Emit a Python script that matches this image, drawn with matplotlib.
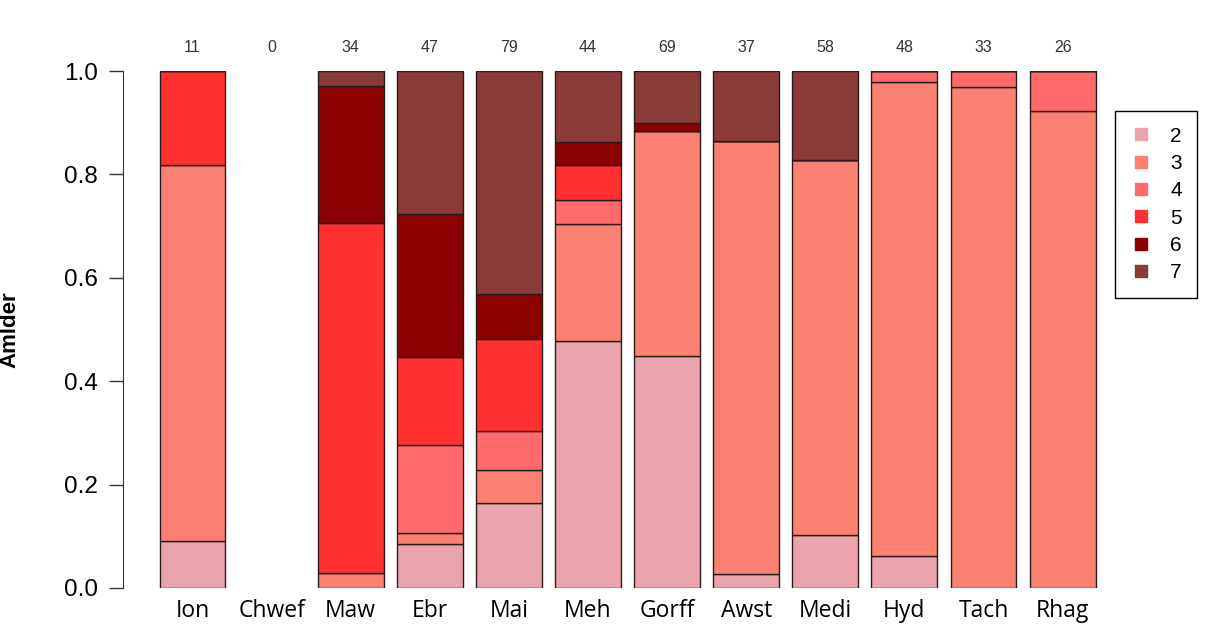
import numpy as np
import matplotlib
matplotlib.use('Agg')
import matplotlib.pyplot as plt
from matplotlib.lines import Line2D

# months (Welsh) and counts of each class per month
months = ['Ion', 'Chwef', 'Maw', 'Ebr', 'Mai', 'Meh', 'Gorff', 'Awst', 'Medi', 'Hyd', 'Tach', 'Rhag']
classes = ['2', '3', '4', '5', '6', '7']
n2 = [1, 0, 0, 4, 13, 21, 31, 1, 6, 3, 0, 0]
n3 = [8, 0, 1, 1, 5, 10, 30, 31, 42, 44, 32, 24]
n4 = [0, 0, 0, 8, 6, 2, 0, 0, 0, 1, 1, 2]
n5 = [2, 0, 23, 8, 14, 3, 0, 0, 0, 0, 0, 0]
n6 = [0, 0, 9, 13, 7, 2, 1, 0, 0, 0, 0, 0]
n7 = [0, 0, 1, 13, 34, 6, 7, 5, 10, 0, 0, 0]
colours = ['#EBA3AD', '#FA8072', '#FF6A6A', '#FF3030', '#8B0000', '#8B3A3A']

counts = np.array([n2, n3, n4, n5, n6, n7], dtype=float)
totals = counts.sum(axis=0)
props = np.divide(counts, totals, out=np.full_like(counts, np.nan), where=totals > 0)

x = np.arange(len(months)) * 1.2

fig = plt.figure(figsize=(12.08, 6.41), dpi=100)
# axis line sits at px 123, 1.0 at px 71, 0.0 at px 588
ax = fig.add_axes([123 / 1208, 1 - 588 / 641, (1100 - 123) / 1208, (588 - 71) / 641])

bottom = np.zeros(len(months))
for i in range(len(classes)):
    h = props[i]
    ok = ~np.isnan(h)
    ax.bar(x[ok], h[ok], width=1.0, bottom=bottom[ok], color=colours[i],
           edgecolor='#2a1a1a', linewidth=1.0)
    bottom[ok] += h[ok]

# x limits so bar centres match the picture: px = 192.5 + 65.9 * x
scale = 79.1 / 1.2
ax.set_xlim((123 - 192.5) / scale, (1100 - 192.5) / scale)
ax.set_ylim(0, 1)

for s in ['top', 'right', 'bottom']:
    ax.spines[s].set_visible(False)
ax.spines['left'].set_color('#333333')
ax.set_yticks([0, 0.2, 0.4, 0.6, 0.8, 1.0])
ax.set_yticklabels(['0.0', '0.2', '0.4', '0.6', '0.8', '1.0'],
                   fontfamily='Liberation Sans', fontsize=17.5)
ax.tick_params(axis='y', length=10, width=1, color='#333333', pad=8)
ax.set_xticks(x)
ax.set_xticklabels(months, fontfamily='Open Sans', fontsize=16.5)
ax.tick_params(axis='x', length=0, pad=8)
ax.set_ylabel('Amlder', fontfamily='Liberation Sans', fontweight='bold', fontsize=16)
ax.yaxis.set_label_coords((20 - 123) / 977, 0.5)

# sample sizes above bars
for xi, t in zip(x, totals):
    ax.text(xi, 1.0 + 23 / 517, '%d' % t, ha='center', va='center',
            fontfamily='Liberation Sans', fontsize=11.5, color='#333333', clip_on=False)

handles = [Line2D([0], [0], marker='s', linestyle='none', markersize=8,
                  markerfacecolor=c, markeredgecolor=c) for c in colours]
leg = fig.legend(handles, classes, loc='upper left', bbox_to_anchor=(1115 / 1208, 1 - 111 / 641),
                 frameon=True, fancybox=False, edgecolor='black', framealpha=1,
                 prop={'family': 'Liberation Sans', 'size': 15}, labelspacing=0.4,
                 handlelength=1.0, handletextpad=0.9, borderpad=0.75, borderaxespad=0)
leg.get_frame().set_linewidth(1.0)

fig.savefig('out.png', dpi=100)
